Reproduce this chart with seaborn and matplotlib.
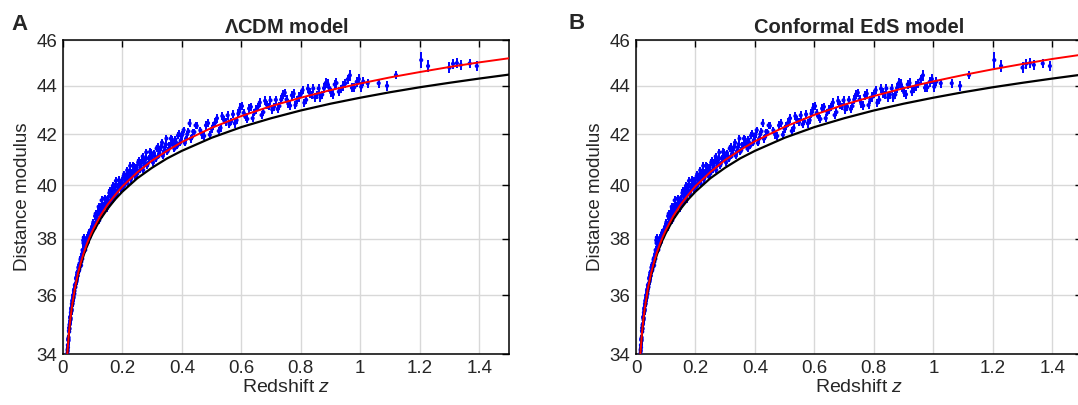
import numpy as np
import pandas as pd
import matplotlib
matplotlib.use("Agg")
import matplotlib.pyplot as plt
import seaborn as sns

# ---------------- data ----------------
curve_z = [0.010, 0.0125, 0.015, 0.020, 0.025, 0.030, 0.040, 0.050, 0.060, 0.070,
           0.080, 0.090, 0.100, 0.125, 0.150, 0.175, 0.200, 0.250, 0.300, 0.350,
           0.400, 0.500, 0.600, 0.700, 0.800, 0.900, 1.000, 1.100, 1.200, 1.300,
           1.400, 1.500]
lcdm_mu = [33.18, 33.66, 34.06, 34.70, 35.19, 35.59, 36.23, 36.74, 37.15, 37.50,
           37.81, 38.08, 38.32, 38.84, 39.27, 39.63, 39.96, 40.50, 40.96, 41.34,
           41.69, 42.26, 42.74, 43.15, 43.50, 43.82, 44.10, 44.36, 44.59, 44.81,
           45.01, 45.19]
conformal_mu = [33.18, 33.66, 34.06, 34.70, 35.19, 35.59, 36.23, 36.74, 37.15, 37.50,
                37.81, 38.08, 38.32, 38.84, 39.27, 39.63, 39.97, 40.51, 40.98, 41.37,
                41.72, 42.30, 42.79, 43.21, 43.57, 43.90, 44.19, 44.46, 44.71, 44.94,
                45.16, 45.35]
eds_mu = [33.16, 33.65, 34.05, 34.68, 35.16, 35.56, 36.19, 36.68, 37.08, 37.42,
          37.72, 37.98, 38.21, 38.71, 39.11, 39.46, 39.76, 40.27, 40.68, 41.04,
          41.34, 41.86, 42.29, 42.65, 42.97, 43.25, 43.50, 43.73, 43.94, 44.13,
          44.31, 44.48]

# supernovae, first group
sn_z = [0.0140, 0.0150, 0.0155, 0.0165, 0.0170, 0.0180, 0.0190, 0.0200, 0.0210, 0.0220,
        0.0235, 0.0245, 0.0255, 0.0265, 0.0280, 0.0290, 0.0300, 0.0315, 0.0330, 0.0345,
        0.0360, 0.0375, 0.0390, 0.0410, 0.0430, 0.0450, 0.0470, 0.0490, 0.0510, 0.0530,
        0.0550, 0.0570, 0.0590, 0.0610, 0.0630, 0.0650, 0.0660, 0.0680, 0.0700, 0.0720,
        0.0740, 0.0760, 0.0780, 0.0800, 0.0820, 0.0840, 0.0860, 0.0880, 0.0900, 0.0920,
        0.0950, 0.0970, 0.1000,
        0.102, 0.106, 0.110, 0.114, 0.118, 0.122, 0.126, 0.130, 0.134, 0.138,
        0.142, 0.146, 0.150, 0.154, 0.158, 0.162, 0.166, 0.170, 0.174, 0.178,
        0.182, 0.186, 0.190, 0.194, 0.198, 0.202, 0.206, 0.210, 0.214, 0.218,
        0.222, 0.226, 0.230, 0.234, 0.238, 0.242, 0.246, 0.250, 0.255, 0.260,
        0.265, 0.270, 0.275, 0.280, 0.285, 0.290, 0.295, 0.300, 0.306, 0.312,
        0.318, 0.324, 0.330, 0.336, 0.342, 0.348, 0.354, 0.360, 0.366, 0.372,
        0.378, 0.384, 0.390, 0.396, 0.402, 0.410, 0.418, 0.426, 0.434, 0.442,
        0.450,
        0.462, 0.475, 0.488, 0.500, 0.512, 0.524, 0.536, 0.548, 0.560, 0.572,
        0.584, 0.596, 0.608, 0.620, 0.632, 0.644, 0.656, 0.668, 0.680, 0.692,
        0.704, 0.716, 0.728, 0.740, 0.752, 0.764, 0.776, 0.788, 0.800, 0.812,
        0.824, 0.836, 0.848, 0.860, 0.872, 0.884, 0.896, 0.908, 0.920, 0.935,
        0.950, 0.965, 0.980, 0.995, 1.010, 1.025,
        1.062, 1.090, 1.120, 1.205, 1.228, 1.300, 1.312, 1.325, 1.338, 1.368, 1.392]
sn_mu = [33.95, 34.02, 34.15, 34.30, 34.22, 34.50, 34.55, 34.78, 34.75, 34.98,
         35.02, 35.22, 35.15, 35.40, 35.50, 35.45, 35.70, 35.68, 35.85, 35.98,
         35.95, 36.20, 36.15, 36.35, 36.40, 36.62, 36.55, 36.80, 36.85, 36.95,
         36.90, 37.10, 37.25, 37.05, 37.35, 37.28, 37.60, 37.95, 38.05, 37.70,
         37.62, 37.85, 37.75, 37.95, 38.00, 37.88, 38.10, 38.05, 38.22, 38.15,
         38.35, 38.28, 38.45,
         38.61, 38.40, 38.93, 38.71, 39.00, 38.68, 39.06, 39.43, 39.00, 39.22,
         39.48, 39.25, 39.52, 39.28, 39.79, 39.55, 39.81, 39.46, 39.82, 40.17,
         39.73, 39.93, 40.18, 39.93, 40.18, 39.93, 40.43, 40.17, 40.41, 40.06,
         40.40, 40.75, 40.29, 40.48, 40.73, 40.47, 40.71, 40.45, 40.95, 40.70,
         40.95, 40.59, 40.94, 41.28, 40.83, 41.02, 41.27, 41.01, 41.26, 41.01,
         41.50, 41.25, 41.49, 41.14, 41.48, 41.83, 41.37, 41.56, 41.80, 41.55,
         41.79, 41.53, 42.02, 41.76, 42.00, 41.65, 42.00, 42.44, 41.89, 42.09,
         42.34,
         42.16, 41.93, 42.45, 42.21, 42.47, 42.13, 42.74, 42.49, 42.40, 42.81,
         42.57, 43.07, 42.87, 42.62, 43.12, 42.88, 43.13, 42.78, 43.37, 43.12,
         43.01, 43.41, 43.15, 43.64, 43.43, 43.17, 43.67, 43.41, 43.65, 43.29,
         43.88, 43.62, 43.51, 43.89, 43.63, 44.12, 43.91, 43.64, 44.12, 43.87,
         44.11, 44.45, 43.94, 44.29, 44.18, 44.11,
         44.11, 44.00, 44.46, 45.11, 44.85, 44.78, 44.95, 44.98, 44.90, 44.96, 44.85]
sn_err = ([0.20, 0.18, 0.17, 0.16, 0.18, 0.15, 0.16, 0.15, 0.14, 0.15,
           0.14, 0.13, 0.14, 0.13, 0.13, 0.12, 0.13, 0.12, 0.12, 0.12,
           0.12, 0.11, 0.12, 0.11, 0.11, 0.12, 0.11, 0.12, 0.11, 0.12,
           0.11, 0.12, 0.12, 0.11, 0.12, 0.11, 0.13, 0.14, 0.13, 0.12,
           0.12, 0.12, 0.12, 0.12, 0.12, 0.11, 0.12, 0.11, 0.12, 0.11,
           0.12, 0.11, 0.12]
          + [0.13, 0.12, 0.14, 0.13, 0.14, 0.12, 0.13, 0.15, 0.12, 0.13,
             0.14, 0.12, 0.13, 0.12, 0.14, 0.13, 0.14, 0.12, 0.13, 0.15,
             0.12, 0.13, 0.14, 0.12, 0.13, 0.12, 0.14, 0.13, 0.14, 0.12,
             0.13, 0.15, 0.12, 0.13, 0.14, 0.12, 0.13, 0.12, 0.14, 0.13,
             0.14, 0.12, 0.13, 0.15, 0.12, 0.13, 0.14, 0.12, 0.13, 0.12,
             0.14, 0.13, 0.14, 0.12, 0.13, 0.15, 0.12, 0.13, 0.14, 0.12,
             0.13, 0.12, 0.14, 0.13, 0.14, 0.12, 0.13, 0.16, 0.12, 0.13,
             0.14]
          + [0.15, 0.17, 0.16, 0.15, 0.17, 0.16, 0.18, 0.15, 0.16, 0.17,
             0.15, 0.19, 0.16, 0.17, 0.18, 0.15, 0.17, 0.16, 0.19, 0.15,
             0.17, 0.18, 0.16, 0.20, 0.17, 0.18, 0.19, 0.16, 0.18, 0.17,
             0.20, 0.17, 0.18, 0.19, 0.17, 0.22, 0.18, 0.19, 0.21, 0.18,
             0.20, 0.25, 0.19, 0.21, 0.20, 0.19]
          + [0.20, 0.22, 0.18, 0.35, 0.25, 0.25, 0.22, 0.20, 0.22, 0.20, 0.22])

# supernovae, second group
sn2_z = [0.0160, 0.0175, 0.0190, 0.0205, 0.0225, 0.0240, 0.0260, 0.0275, 0.0295, 0.0310,
         0.0325, 0.0340, 0.0355, 0.0370, 0.0385, 0.0400, 0.0420, 0.0440, 0.0460, 0.0480,
         0.0500, 0.0520, 0.0540, 0.0560, 0.0580, 0.0600, 0.0620, 0.0640, 0.0670, 0.0690,
         0.0710, 0.0730, 0.0750, 0.0770, 0.0790, 0.0810, 0.0830, 0.0850, 0.0870, 0.0890,
         0.0910, 0.0930, 0.0960, 0.0980,
         0.104, 0.108, 0.112, 0.116, 0.120, 0.124, 0.128, 0.132, 0.136, 0.140,
         0.144, 0.148, 0.152, 0.156, 0.160, 0.164, 0.168, 0.172, 0.176, 0.180,
         0.184, 0.188, 0.192, 0.196, 0.200, 0.204, 0.208, 0.212, 0.216, 0.220,
         0.224, 0.228, 0.232, 0.236, 0.240, 0.244, 0.248, 0.253, 0.258, 0.263,
         0.268, 0.273, 0.278, 0.283, 0.288, 0.293, 0.298, 0.303, 0.309, 0.315,
         0.321, 0.327, 0.333, 0.339, 0.345, 0.351, 0.357, 0.363, 0.369, 0.375,
         0.381, 0.387, 0.393, 0.399, 0.406, 0.414, 0.422, 0.430, 0.438, 0.446,
         0.468, 0.481, 0.494, 0.506, 0.518, 0.530, 0.542, 0.554, 0.566, 0.578,
         0.590, 0.602, 0.614, 0.626, 0.638, 0.650, 0.662, 0.674, 0.686, 0.698,
         0.710, 0.722, 0.734, 0.746, 0.758, 0.770, 0.782, 0.794, 0.806, 0.818,
         0.830, 0.842, 0.854, 0.866, 0.878, 0.890, 0.902, 0.914, 0.928, 0.942,
         0.958, 0.972, 0.988, 1.003]
sn2_mu = [34.10, 34.48, 34.45, 34.88, 34.85, 35.25, 35.20, 35.55, 35.50, 35.80,
          35.72, 36.00, 35.90, 36.15, 36.05, 36.35, 36.28, 36.58, 36.48, 36.78,
          36.68, 36.98, 36.85, 37.12, 37.00, 37.30, 37.18, 37.45, 37.55, 37.85,
          37.60, 37.78, 37.60, 37.90, 37.80, 38.05, 37.92, 38.12, 38.02, 38.25,
          38.08, 38.30, 38.25, 38.45,
          38.50, 38.84, 38.57, 38.91, 39.19, 38.87, 39.20, 38.92, 39.23, 39.50,
          39.32, 39.13, 39.40, 39.71, 39.42, 39.73, 39.98, 39.64, 39.94, 39.65,
          39.95, 40.20, 40.01, 39.81, 40.06, 40.35, 40.05, 40.34, 40.58, 40.23,
          40.52, 40.22, 40.51, 40.76, 40.55, 40.34, 40.58, 40.88, 40.58, 40.88,
          41.12, 40.77, 41.06, 40.76, 41.05, 41.30, 41.09, 40.88, 41.13, 41.43,
          41.12, 41.42, 41.67, 41.31, 41.60, 41.30, 41.59, 41.83, 41.62, 41.42,
          41.66, 41.95, 41.64, 41.93, 42.17, 41.82, 42.12, 41.82, 42.11, 42.36,
          41.99, 42.36, 41.98, 42.34, 42.65, 42.26, 42.57, 42.77, 42.53, 42.44,
          42.84, 43.15, 42.70, 43.05, 42.65, 43.00, 43.30, 42.90, 43.20, 43.39,
          43.13, 43.03, 43.42, 43.71, 43.25, 43.60, 43.19, 43.53, 43.82, 43.41,
          43.70, 43.89, 43.63, 43.51, 43.90, 44.09, 43.72, 44.06, 43.75, 43.99,
          44.28, 43.92, 44.17, 43.96]
sn2_err = ([0.17, 0.16, 0.15, 0.15, 0.14, 0.14, 0.13, 0.13, 0.13, 0.12,
            0.12, 0.12, 0.12, 0.12, 0.11, 0.12, 0.11, 0.12, 0.11, 0.12,
            0.11, 0.12, 0.11, 0.12, 0.11, 0.12, 0.11, 0.12, 0.12, 0.13,
            0.12, 0.12, 0.11, 0.12, 0.11, 0.12, 0.11, 0.12, 0.11, 0.12,
            0.11, 0.12, 0.11, 0.12]
           + [0.14, 0.13, 0.12, 0.14, 0.15, 0.12, 0.13, 0.14, 0.12, 0.14,
              0.13, 0.12, 0.14, 0.15, 0.12, 0.13, 0.14, 0.12, 0.14, 0.13,
              0.12, 0.14, 0.15, 0.12, 0.13, 0.14, 0.12, 0.14, 0.13, 0.12,
              0.14, 0.15, 0.12, 0.13, 0.14, 0.12, 0.14, 0.13, 0.12, 0.14,
              0.15, 0.12, 0.13, 0.14, 0.12, 0.14, 0.13, 0.12, 0.14, 0.15,
              0.12, 0.13, 0.14, 0.12, 0.14, 0.13, 0.12, 0.14, 0.15, 0.12,
              0.13, 0.14, 0.12, 0.14, 0.13, 0.12, 0.14, 0.15, 0.12, 0.13]
           + [0.16, 0.18, 0.15, 0.17, 0.19, 0.16, 0.17, 0.18, 0.15, 0.17,
              0.19, 0.16, 0.18, 0.17, 0.16, 0.19, 0.18, 0.17, 0.16, 0.20,
              0.17, 0.18, 0.19, 0.16, 0.18, 0.20, 0.17, 0.19, 0.18, 0.17,
              0.20, 0.19, 0.17, 0.18, 0.21, 0.19, 0.18, 0.20, 0.19, 0.21,
              0.20, 0.19, 0.21, 0.20])

panel_titles = [r"$\mathbf{\Lambda}$CDM model", "Conformal EdS model"]
panel_letters = ["A", "B"]
x_ticks = [0, 0.2, 0.4, 0.6, 0.8, 1.0, 1.2, 1.4]
x_ticklabels = ["0", "0.2", "0.4", "0.6", "0.8", "1", "1.2", "1.4"]
y_ticks = [34, 36, 38, 40, 42, 44, 46]

# ---------------- style ----------------
sns.set_theme(style="white")
plt.rcParams["font.family"] = ["Liberation Sans", "DejaVu Sans"]
plt.rcParams["mathtext.fontset"] = "custom"
plt.rcParams["mathtext.rm"] = "Liberation Sans"
plt.rcParams["mathtext.it"] = "Liberation Sans:italic"
plt.rcParams["mathtext.bf"] = "Liberation Sans:bold"

curves = pd.DataFrame({"z": curve_z, "lcdm": lcdm_mu, "conf": conformal_mu, "eds": eds_mu})
sn = pd.concat([pd.DataFrame({"z": sn_z, "mu": sn_mu, "err": sn_err}),
                pd.DataFrame({"z": sn2_z, "mu": sn2_mu, "err": sn2_err})],
               ignore_index=True)

# slightly non-uniform vertical axis, as in the reference image
A_, B_ = 22.27, 0.325


def fwd(v):
    u = 46.0 - np.asarray(v, dtype=float)
    return -(A_ * u + B_ * u * u)


def inv(f):
    g = -np.asarray(f, dtype=float)
    disc = np.maximum(A_ * A_ + 4 * B_ * g, 0.0)
    u = (-A_ + np.sqrt(disc)) / (2 * B_)
    return 46.0 - u


fig = plt.figure(figsize=(10.78, 4.05), dpi=100)
ax_pos = [[0.0584, 0.1259, 0.4137, 0.7753], [0.5900, 0.1259, 0.4137, 0.7753]]
model_cols = ["lcdm", "conf"]

for i in range(2):
    ax = fig.add_axes(ax_pos[i])
    ax.set_yscale("function", functions=(fwd, inv))
    ax.set_xlim(0, 1.5)
    ax.set_ylim(34, 46)

    ax.grid(True, color="#d8d8d8", linewidth=1.0, zorder=0)
    ax.set_axisbelow(True)

    ax.errorbar(sn["z"], sn["mu"], yerr=sn["err"], fmt="none", ecolor="#0000ff",
                elinewidth=1.4, capsize=0, zorder=3)
    sns.scatterplot(data=sn, x="z", y="mu", ax=ax, color="#0000ff", s=9,
                    marker="o", edgecolor="none", zorder=4, legend=False)
    sns.lineplot(data=curves, x="z", y="eds", ax=ax, color="black", linewidth=1.6,
                 estimator=None, sort=False, zorder=5)
    sns.lineplot(data=curves, x="z", y=model_cols[i], ax=ax, color="#ff0000",
                 linewidth=1.4, estimator=None, sort=False, zorder=6)

    ax.set_xticks(x_ticks)
    ax.set_xticklabels(x_ticklabels)
    ax.set_yticks(y_ticks)
    ax.set_yticklabels([str(t) for t in y_ticks])
    ax.minorticks_off()
    ax.tick_params(direction="in", length=5, width=1, top=True, right=True,
                   labelsize=13.5, colors="black", pad=4, labelcolor="#262626")
    for s in ax.spines.values():
        s.set_color("black")
        s.set_linewidth(1.1)

    ax.set_xlabel("Redshift $\\it{z}$", fontsize=14, color="#262626", labelpad=2)
    ax.set_ylabel("Distance modulus", fontsize=13.5, color="#262626", labelpad=4)
    ax.set_title(panel_titles[i], fontsize=14.5, fontweight="bold", pad=5)

fig.text(0.011, 1 - 30 / 405, panel_letters[0], fontsize=16, fontweight="bold")
fig.text(0.527, 1 - 29 / 405, panel_letters[1], fontsize=16, fontweight="bold")

fig.savefig("out.png", dpi=100)
